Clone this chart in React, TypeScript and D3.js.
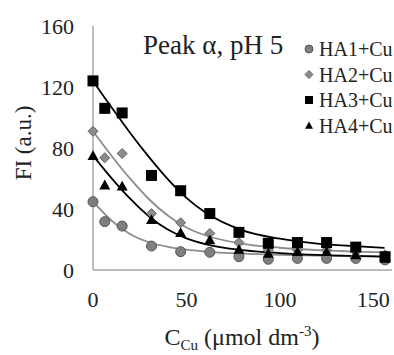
import { useMemo } from 'react';
import * as d3 from 'd3';

// Cu concentration (µmol dm-3) at each titration step
const conc = [0, 6.3, 15.6, 31.3, 46.9, 62.5, 78.1, 93.8, 109.4, 125, 140.6, 156.3];
const ha1 = [44.8, 31.7, 28.8, 15.7, 12, 11.6, 8.7, 7, 7.6, 7.6, 7.6, 6.6];
const ha2 = [91, 73.6, 76.4, 37, 31, 24, 18, 13, 13, 13, 12, 10];
const ha3 = [124, 106, 103, 62, 52, 37, 24.7, 17.5, 18, 18, 15, 8.7];
const ha4 = [75, 55.7, 55, 33, 24.5, 19.7, 13.5, 11, 12, 12, 10, 7.7];

// fitted curves
const fitX = [0, 10, 20, 30, 40, 50, 60, 80, 100, 120, 140, 156];
const fit1 = [45, 32.3, 23.5, 18.2, 15.2, 13.3, 12.1, 10.7, 9.9, 9.4, 9, 8.8];
const fit2 = [91, 74.8, 59.7, 46.4, 35.7, 27.9, 22.8, 17.2, 14.6, 13, 12.1, 11.5];
const fit3 = [124, 106.5, 89.7, 74, 59.6, 47.3, 37.8, 26, 20.5, 17.3, 15.6, 14.5];
const fit4 = [75, 60.1, 46.6, 35.1, 26.5, 20.7, 17, 13, 11.1, 9.9, 9.2, 8.8];

const xTicks = [0, 50, 100, 150];
const yTicks = [0, 40, 80, 120, 160];

type Shape = 'circle' | 'diamond' | 'square' | 'triangle';
const series = [
  { name: 'HA1+Cu', ys: ha1, fit: fit1, shape: 'circle' as Shape, fill: '#7f7f7f', stroke: '#555', line: '#8c8c8c' },
  { name: 'HA2+Cu', ys: ha2, fit: fit2, shape: 'diamond' as Shape, fill: '#8c8c8c', stroke: '#666', line: '#8c8c8c' },
  { name: 'HA3+Cu', ys: ha3, fit: fit3, shape: 'square' as Shape, fill: '#000', stroke: '#000', line: '#000' },
  { name: 'HA4+Cu', ys: ha4, fit: fit4, shape: 'triangle' as Shape, fill: '#000', stroke: '#000', line: '#000' },
];

function Marker({ shape, x, y, s, fill, stroke }: { shape: Shape; x: number; y: number; s: number; fill: string; stroke: string }) {
  if (shape === 'circle') return <circle cx={x} cy={y} r={s / 2} fill={fill} stroke={stroke} strokeWidth={1} />;
  if (shape === 'square') return <rect x={x - s / 2} y={y - s / 2} width={s} height={s} fill={fill} />;
  if (shape === 'diamond') {
    const h = s / 2;
    return <path d={`M${x},${y - h}L${x + h},${y}L${x},${y + h}L${x - h},${y}Z`} fill={fill} stroke={stroke} strokeWidth={1} />;
  }
  const h = s / 2;
  return <path d={`M${x},${y - h}L${x + h},${y + h * 0.8}L${x - h},${y + h * 0.8}Z`} fill={fill} />;
}

export default function App() {
  const W = 394, H = 355;
  const x = useMemo(() => d3.scaleLinear().domain([0, 160]).range([93, 392]), []);
  const y = useMemo(() => d3.scaleLinear().domain([0, 160]).range([270, 26]), []);
  const line = d3.line<[number, number]>().x((d) => x(d[0])).y((d) => y(d[1])).curve(d3.curveMonotoneX);
  const sizes: Record<Shape, number> = { circle: 10, diamond: 10, square: 11, triangle: 11 };

  return (
    <svg width={W} height={H} style={{ position: 'absolute', left: 0, top: 0, background: '#fff' }}>
      <style>{`text { font-family: "Liberation Serif", serif; fill: #222; }`}</style>
      {/* axes */}
      <line x1={x(0)} x2={x(0)} y1={y(160)} y2={y(0)} stroke="#a6a6a6" strokeWidth={1.5} />
      <line x1={x(0)} x2={x(160)} y1={y(0)} y2={y(0)} stroke="#a6a6a6" strokeWidth={1.5} />
      {yTicks.map((t) => (
        <text key={t} x={74} y={y(t)} dy="0.35em" textAnchor="end" fontSize={22}>{t}</text>
      ))}
      {xTicks.map((t) => (
        <text key={t} x={x(t)} y={307} textAnchor="middle" fontSize={22}>{t}</text>
      ))}
      <text transform="translate(31,143) rotate(-90)" textAnchor="middle" fontSize={23}>FI (a.u.)</text>
      <text x={242} y={345} textAnchor="middle" fontSize={24}>
        C<tspan fontSize={15} dy={5}>Cu</tspan><tspan dy={-5}> (μmol dm</tspan><tspan fontSize={15} dy={-9}>-3</tspan><tspan dy={9}>)</tspan>
      </text>

      {/* fitted curves */}
      {series.map((s) => (
        <path key={s.name + 'fit'} d={line(fitX.map((v, i) => [v, s.fit[i]] as [number, number])) ?? ''} fill="none" stroke={s.line} strokeWidth={1.8} />
      ))}
      {/* data points */}
      {series.map((s) => (
        <g key={s.name}>
          {conc.map((c, i) => (
            <Marker key={i} shape={s.shape} x={x(c)} y={y(s.ys[i])} s={sizes[s.shape]} fill={s.fill} stroke={s.stroke} />
          ))}
        </g>
      ))}

      <text x={143} y={54} fontSize={27}>Peak α, pH 5</text>
      {/* legend */}
      {series.map((s, i) => (
        <g key={s.name + 'leg'}>
          <Marker shape={s.shape} x={309} y={49 + i * 25.5} s={8} fill={s.fill} stroke={s.stroke} />
          <text x={319} y={49 + i * 25.5} dy="0.35em" fontSize={20}>{s.name}</text>
        </g>
      ))}
    </svg>
  );
}
